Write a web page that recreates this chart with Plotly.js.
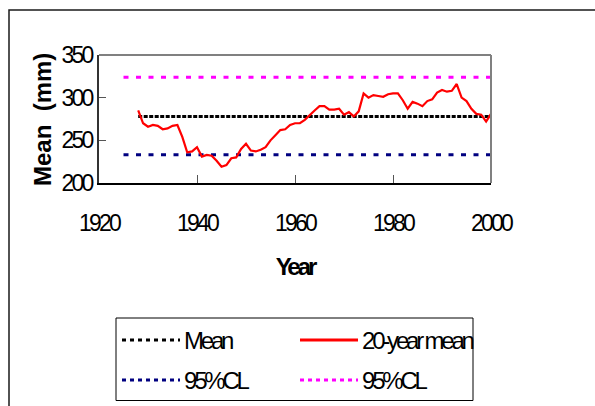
<!DOCTYPE html>
<html><head><meta charset="utf-8">
<script src="https://cdn.plot.ly/plotly-3.0.1.min.js"></script>
<style>
html,body{margin:0;padding:0;background:#fff;}
#chart{width:595px;height:406px;}
#chart .xtick text, #chart .ytick text { letter-spacing: -2.8px; }
#chart .annotation-text { letter-spacing: -3.2px; }
#chart .annotation[data-index="0"] .annotation-text { letter-spacing: 0px; }
#chart .xtitle { letter-spacing: -3px; }
</style>
</head><body><div id="chart"></div>
<script>
// ---- data ----
const years = [1928,1929,1930,1931,1932,1933,1934,1935,1936,1937,
  1938,1939,1940,1941,1942,1943,1944,1945,1946,1947,
  1948,1949,1950,1951,1952,1953,1954,1955,1956,1957,
  1958,1959,1960,1961,1962,1963,1964,1965,1966,1967,
  1968,1969,1970,1971,1972,1973,1974,1975,1976,1977,
  1978,1979,1980,1981,1982,1983,1984,1985,1986,1987,
  1988,1989,1990,1991,1992,1993,1994,1995,1996,1997,
  1998,1999,2000];
const mean20 = [285,270,266,268,267,263,264,267,268,254,
  236,237,242,231,233,232,226,219,221,229,
  230,240,246,238,237,239,242,250,256,262,
  263,268,270,270,274,280,285,290,290,286,
  286,287,280,283,278,284,305,300,303,302,
  301,304,305,305,297,287,295,293,290,296,
  298,306,309,307,308,316,300,296,287,281,
  280,272,281];
const meanX = [1928, 2000];
const meanY = [278, 278];
const clX = [1925, 2000];
const clLowY = [233, 233];
const clHighY = [324, 324];
const seriesNames = ["Mean", "20-year mean", "95%CL", "95%CL"];
const xTickVals = [1920, 1940, 1960, 1980, 2000];
const yTickVals = [200, 250, 300, 350];
const xTitle = "Year";
const yTitle = "Mean\u00a0\u00a0(mm)";

// ---- layout helpers ----
const W = 595, H = 406, ML = 99, MR = 104, MT = 55, MB = 223;
const PW = W - ML - MR, PH = H - MT - MB;
const px = p => (p - ML) / PW;
const py = p => (H - MB - p) / PH;

const FONT = "Liberation Sans, Arial, sans-serif";
const NAVY = "#000080", MAG = "#FF00FF";

const styles = [
  {color: "#000000", width: 3, dash: "4px,1.5px"},
  {color: "#FF0000", width: 2.2, dash: "solid"},
  {color: NAVY, width: 3, dash: "5px,7.5px"},
  {color: MAG, width: 3, dash: "5px,7.5px"}
];

const traces = [
  {x: meanX, y: meanY, name: seriesNames[0], mode: "lines", line: styles[0], hoverinfo: "skip"},
  {x: clX, y: clLowY, name: seriesNames[2], mode: "lines", line: styles[2], hoverinfo: "skip"},
  {x: clX, y: clHighY, name: seriesNames[3], mode: "lines", line: styles[3], hoverinfo: "skip"},
  {x: years, y: mean20, name: seriesNames[1], mode: "lines", line: styles[1]}
];

// custom legend (two columns, two rows)
const legendItems = [
  {name: seriesNames[0], st: styles[0], lx: 122, ly: 340, legendDash: "4px,4px"},
  {name: seriesNames[1], st: styles[1], lx: 300, ly: 340, legendDash: "solid"},
  {name: seriesNames[2], st: styles[2], lx: 122, ly: 380, legendDash: "4px,4px"},
  {name: seriesNames[3], st: styles[3], lx: 300, ly: 380, legendDash: "4px,4px"}
];

const shapes = [
  {type: "rect", xref: "paper", yref: "paper", x0: px(9), x1: px(604), y0: py(10), y1: py(412),
   line: {color: "#1a1a1a", width: 1.5}, layer: "below"},
  {type: "line", xref: "paper", yref: "paper", x0: 0, x1: 1, y0: 1, y1: 1, line: {color: "#808080", width: 2}},
  {type: "line", xref: "paper", yref: "paper", x0: 1, x1: 1, y0: 0, y1: 1, line: {color: "#808080", width: 2}},
  {type: "rect", xref: "paper", yref: "paper", x0: px(116), x1: px(473), y0: py(318), y1: py(400.5),
   line: {color: "#000000", width: 1}}
];
const annotations = [
  // y-axis title
  {xref: "paper", yref: "paper", x: px(42), y: py(120), xanchor: "center", yanchor: "middle",
   textangle: -90, text: "<b>" + yTitle + "</b>", showarrow: false,
   font: {family: FONT, size: 24, color: "#000"}}
];
legendItems.forEach(it => {
  shapes.push({type: "line", xref: "paper", yref: "paper", x0: px(it.lx), x1: px(it.lx + 58),
    y0: py(it.ly), y1: py(it.ly), line: {color: it.st.color, width: 3, dash: it.legendDash}});
  annotations.push({xref: "paper", yref: "paper", x: px(it.lx + 61), y: py(it.ly), xanchor: "left", yanchor: "middle",
    align: "left", text: it.name, showarrow: false, font: {family: FONT, size: 24, color: "#000"}, borderpad: 0});
});

const layout = {
  width: W, height: H,
  margin: {l: ML, r: MR, t: MT, b: MB, pad: 0},
  paper_bgcolor: "#ffffff", plot_bgcolor: "#ffffff",
  showlegend: false,
  xaxis: {
    range: [1920, 2000], tickvals: xTickVals, ticktext: xTickVals.map(String),
    showgrid: false, zeroline: false, showline: true, linecolor: "#000000", linewidth: 2,
    ticks: "inside", ticklen: 8, tickcolor: "#555555", tickwidth: 1,
    ticklabelstandoff: 18,
    tickfont: {family: FONT, size: 23, color: "#000"},
    title: {text: "<b>" + xTitle + "</b>", font: {family: FONT, size: 24, color: "#000"}, standoff: 24}
  },
  yaxis: {
    range: [200, 350], tickvals: yTickVals, ticktext: yTickVals.map(String),
    showgrid: false, zeroline: false, showline: true, linecolor: "#333333", linewidth: 2,
    ticks: "inside", ticklen: 7, tickcolor: "#555555", tickwidth: 1,
    ticklabelstandoff: 1,
    tickfont: {family: FONT, size: 23, color: "#000"}
  },
  shapes: shapes,
  annotations: annotations
};

Plotly.newPlot("chart", traces, layout, {staticPlot: true, displayModeBar: false});
</script>
</body></html>
